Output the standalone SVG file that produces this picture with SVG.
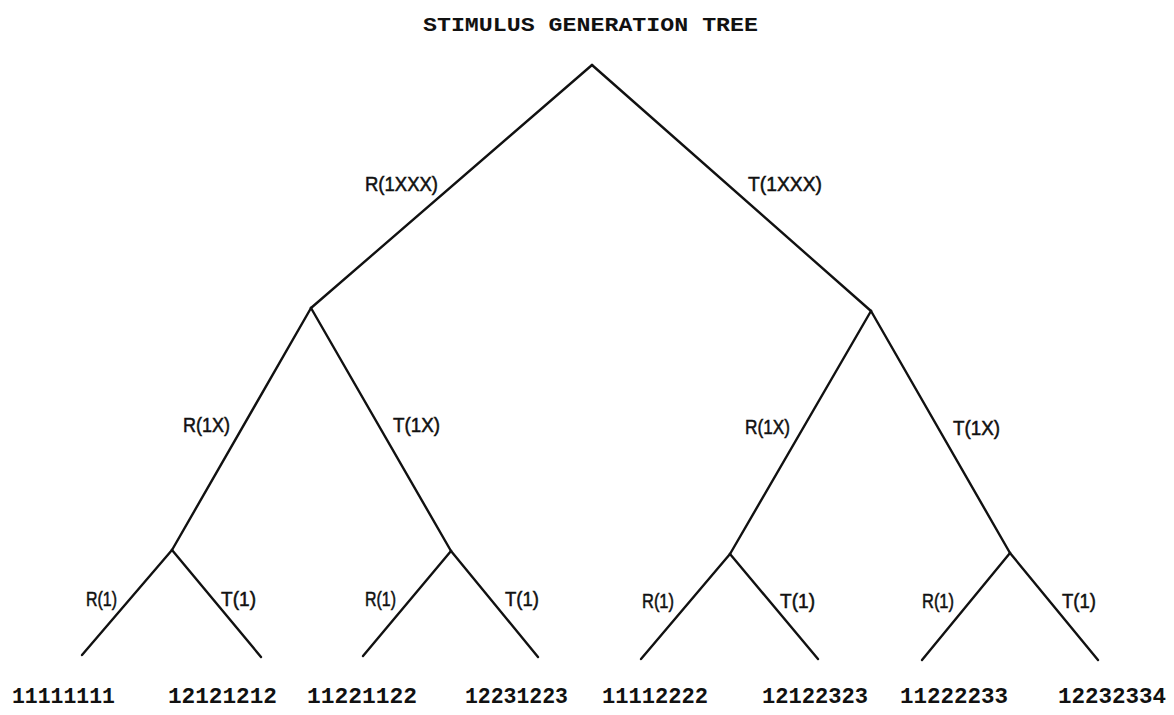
<svg xmlns="http://www.w3.org/2000/svg" width="1174" height="715" viewBox="0 0 1174 715">
<style>
.bg{fill:#fff}
.edge{stroke:#111;stroke-width:2.4;stroke-linecap:round;fill:none}
.jn{fill:#111}
.title{font-family:"Liberation Mono","DejaVu Sans Mono",monospace;font-weight:bold;font-size:21px;fill:#111}
.lbl{font-family:"Liberation Sans","DejaVu Sans",sans-serif;font-size:20px;fill:#111;stroke:#111;stroke-width:0.5}
.leaf{font-family:"Liberation Mono","DejaVu Sans Mono",monospace;font-weight:bold;font-size:22px;fill:#111}
</style>
<rect class="bg" x="0" y="0" width="1174" height="715"/>
<g id="title"><text class="title" x="423" y="31" textLength="335" lengthAdjust="spacingAndGlyphs">STIMULUS GENERATION TREE</text></g>
<g id="connectors">
<line class="edge" x1="592" y1="65" x2="311" y2="308"/>
<line class="edge" x1="592" y1="65" x2="871" y2="311"/>
<line class="edge" x1="311" y1="308" x2="172" y2="550"/>
<line class="edge" x1="311" y1="308" x2="451" y2="551"/>
<line class="edge" x1="871" y1="311" x2="730" y2="554"/>
<line class="edge" x1="871" y1="311" x2="1010" y2="553"/>
<line class="edge" x1="172" y1="550" x2="82" y2="655"/>
<line class="edge" x1="172" y1="550" x2="261" y2="657"/>
<line class="edge" x1="451" y1="551" x2="363" y2="656"/>
<line class="edge" x1="451" y1="551" x2="538" y2="657"/>
<line class="edge" x1="730" y1="554" x2="641" y2="659"/>
<line class="edge" x1="730" y1="554" x2="818" y2="659"/>
<line class="edge" x1="1010" y1="553" x2="922" y2="660"/>
<line class="edge" x1="1010" y1="553" x2="1098" y2="660"/>
<g id="edge-labels">
<text class="lbl" x="365" y="191" textLength="73" lengthAdjust="spacingAndGlyphs">R(1XXX)</text>
<text class="lbl" x="748" y="191" textLength="74" lengthAdjust="spacingAndGlyphs">T(1XXX)</text>
<text class="lbl" x="183" y="432" textLength="47" lengthAdjust="spacingAndGlyphs">R(1X)</text>
<text class="lbl" x="393" y="432" textLength="47" lengthAdjust="spacingAndGlyphs">T(1X)</text>
<text class="lbl" x="745" y="434" textLength="45" lengthAdjust="spacingAndGlyphs">R(1X)</text>
<text class="lbl" x="953" y="435" textLength="47" lengthAdjust="spacingAndGlyphs">T(1X)</text>
<text class="lbl" x="86" y="606" textLength="31" lengthAdjust="spacingAndGlyphs">R(1)</text>
<text class="lbl" x="221" y="606" textLength="35" lengthAdjust="spacingAndGlyphs">T(1)</text>
<text class="lbl" x="365" y="606" textLength="31" lengthAdjust="spacingAndGlyphs">R(1)</text>
<text class="lbl" x="505" y="606" textLength="34" lengthAdjust="spacingAndGlyphs">T(1)</text>
<text class="lbl" x="642" y="608" textLength="32" lengthAdjust="spacingAndGlyphs">R(1)</text>
<text class="lbl" x="780" y="608" textLength="35" lengthAdjust="spacingAndGlyphs">T(1)</text>
<text class="lbl" x="922" y="608" textLength="32" lengthAdjust="spacingAndGlyphs">R(1)</text>
<text class="lbl" x="1062" y="608" textLength="34" lengthAdjust="spacingAndGlyphs">T(1)</text>
</g>
</g>
<g id="node-root"><circle class="jn" cx="592" cy="65" r="1.2"/></g>
<g id="node-R"><circle class="jn" cx="311" cy="308" r="1.2"/></g>
<g id="node-T"><circle class="jn" cx="871" cy="311" r="1.2"/></g>
<g id="node-RR"><circle class="jn" cx="172" cy="550" r="1.2"/></g>
<g id="node-RT"><circle class="jn" cx="451" cy="551" r="1.2"/></g>
<g id="node-TR"><circle class="jn" cx="730" cy="554" r="1.2"/></g>
<g id="node-TT"><circle class="jn" cx="1010" cy="553" r="1.2"/></g>
<g id="leaf-1"><text class="leaf" x="12" y="703" textLength="103" lengthAdjust="spacingAndGlyphs">11111111</text></g>
<g id="leaf-2"><text class="leaf" x="168" y="703" textLength="109" lengthAdjust="spacingAndGlyphs">12121212</text></g>
<g id="leaf-3"><text class="leaf" x="307" y="703" textLength="110" lengthAdjust="spacingAndGlyphs">11221122</text></g>
<g id="leaf-4"><text class="leaf" x="465" y="703" textLength="103" lengthAdjust="spacingAndGlyphs">12231223</text></g>
<g id="leaf-5"><text class="leaf" x="602" y="703" textLength="106" lengthAdjust="spacingAndGlyphs">11112222</text></g>
<g id="leaf-6"><text class="leaf" x="762" y="703" textLength="106" lengthAdjust="spacingAndGlyphs">12122323</text></g>
<g id="leaf-7"><text class="leaf" x="900" y="703" textLength="108" lengthAdjust="spacingAndGlyphs">11222233</text></g>
<g id="leaf-8"><text class="leaf" x="1058" y="703" textLength="108" lengthAdjust="spacingAndGlyphs">12232334</text></g>
</svg>
